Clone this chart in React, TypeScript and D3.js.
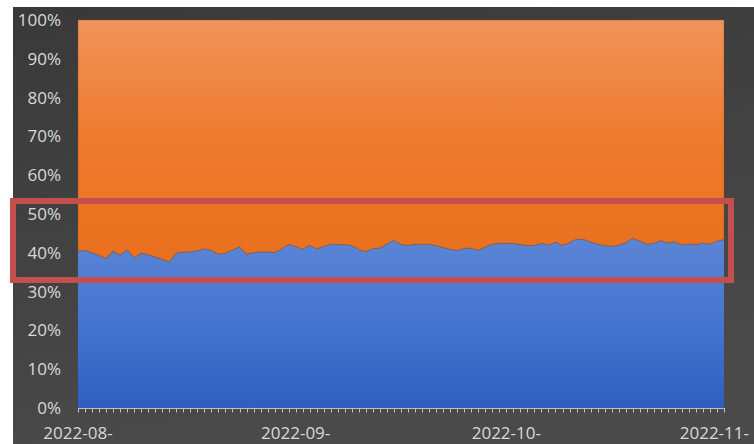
import React from "react";
import * as d3 from "d3";

// Share of the blue series (percent) per day, 2022-08-01 .. 2022-11-01
const blueShare: number[] = [
  40.4, 40.6, 40.0, 39.3, 38.5, 40.4, 39.4, 40.8, 38.7, 39.9,
  39.5, 38.9, 38.3, 37.6, 39.9, 40.2, 40.2, 40.5, 41.0, 40.6,
  39.6, 39.9, 40.7, 41.5, 39.6, 40.0, 40.2, 40.2, 40.0, 41.0,
  42.1, 41.6, 40.9, 41.9, 41.0, 41.6, 42.2, 42.1, 42.1, 41.8,
  40.8, 40.3, 41.1, 41.2, 42.3, 43.2, 42.1, 41.9, 42.2, 42.1,
  42.2, 41.8, 41.3, 40.9, 40.6, 41.1, 41.2, 40.6, 41.5, 42.2,
  42.4, 42.4, 42.4, 42.1, 41.9, 41.9, 42.4, 42.0, 42.7, 41.9,
  42.6, 43.5, 43.4, 42.8, 42.2, 41.8, 41.7, 41.9, 42.6, 43.7,
  43.0, 42.2, 42.4, 43.1, 42.5, 42.8, 42.0, 42.3, 42.1, 42.5,
  42.2, 43.0, 43.4,
];
// Orange series is the complement to 100%
const orangeShare: number[] = blueShare.map((v) => 100 - v);

const startDate = new Date(2022, 7, 1);
const endDate = new Date(2022, 10, 1);
const dates: Date[] = d3.timeDay.range(startDate, d3.timeDay.offset(endDate, 1));

const yTicks: number[] = [0, 0.1, 0.2, 0.3, 0.4, 0.5, 0.6, 0.7, 0.8, 0.9, 1.0];
const monthTickDates: Date[] = [
  new Date(2022, 7, 1),
  new Date(2022, 8, 1),
  new Date(2022, 9, 1),
  new Date(2022, 10, 1),
];
const monthTickLabels: string[] = ["2022-08-", "2022-09-", "2022-10-", "2022-11-"];

const W = 754;
const H = 444;
const plot = { left: 78, right: 724, top: 20, bottom: 408 };

export default function App() {
  const x = d3.scaleTime().domain([startDate, endDate]).range([plot.left, plot.right]);
  const y = d3.scaleLinear().domain([0, 1]).range([plot.bottom, plot.top]);

  const rows = dates.map((d, i) => ({
    date: d,
    blue: blueShare[i] / 100,
    orange: orangeShare[i] / 100,
  }));
  const stacked = d3.stack<any>().keys(["blue", "orange"])(rows);
  const area = d3
    .area<any>()
    .x((d) => x(d.data.date))
    .y0((d) => y(d[0]))
    .y1((d) => y(d[1]));
  const line = d3
    .line<any>()
    .x((d) => x(d.data.date))
    .y((d) => y(d[1]));

  const font = "'Segoe UI', 'Open Sans', 'Noto Sans', sans-serif";
  const textColor = "#d9d9d9";

  return (
    <svg
      width={W}
      height={H}
      style={{ position: "absolute", left: 0, top: 0, display: "block" }}
    >
      <defs>
        <linearGradient id="bg" x1="0" y1="0" x2="0.3" y2="1">
          <stop offset="0" stopColor="#393939" />
          <stop offset="1" stopColor="#4a4a4a" />
        </linearGradient>
        <linearGradient id="orangeGrad" gradientUnits="userSpaceOnUse" x1="0" y1={plot.top} x2="0" y2={y(0.36)}>
          <stop offset="0" stopColor="#f0935b" />
          <stop offset="0.45" stopColor="#ef7c2e" />
          <stop offset="1" stopColor="#e86f1c" />
        </linearGradient>
        <linearGradient id="blueGrad" gradientUnits="userSpaceOnUse" x1="0" y1={y(0.44)} x2="0" y2={plot.bottom}>
          <stop offset="0" stopColor="#5b86d6" />
          <stop offset="0.5" stopColor="#4574d0" />
          <stop offset="1" stopColor="#2f5ec0" />
        </linearGradient>
      </defs>

      <rect x={0} y={0} width={W} height={H} fill="#ffffff" />
      <rect x={13} y={7} width={W - 13} height={H - 7} fill="url(#bg)" />

      {/* stacked areas */}
      <path d={area(stacked[0]) || ""} fill="url(#blueGrad)" />
      <path d={area(stacked[1]) || ""} fill="url(#orangeGrad)" stroke="#8a4a20" strokeWidth={0.6} strokeOpacity={0.6} />
      <path d={line(stacked[0]) || ""} fill="none" stroke="#6e6680" strokeWidth={1} strokeOpacity={0.55} />

      {/* y axis labels */}
      {yTicks.map((t) => (
        <text
          key={t}
          x={61}
          y={y(t)}
          dy="0.35em"
          textAnchor="end"
          fontFamily={font}
          fontSize={17}
          fill={textColor}
        >
          {d3.format(".0%")(t)}
        </text>
      ))}

      {/* x axis line and daily ticks */}
      <line x1={plot.left} x2={plot.right} y1={plot.bottom + 0.5} y2={plot.bottom + 0.5} stroke="#bfbfbf" strokeWidth={1} />
      {dates.map((d, i) => (
        <line
          key={i}
          x1={Math.round(x(d)) + 0.5}
          x2={Math.round(x(d)) + 0.5}
          y1={plot.bottom}
          y2={plot.bottom + 4.5}
          stroke="#bfbfbf"
          strokeWidth={1}
        />
      ))}

      {/* month labels */}
      {monthTickDates.map((d, i) => {
        const cx = x(d);
        const overflow = cx + 35 > 749;
        return (
          <text
            key={i}
            x={overflow ? 749 : cx}
            y={439}
            textAnchor={overflow ? "end" : "middle"}
            fontFamily={font}
            fontSize={17}
            fill={textColor}
          >
            {monthTickLabels[i]}
          </text>
        );
      })}

      {/* highlight rectangle */}
      <rect x={13} y={201} width={718} height={79} fill="none" stroke="#c4504d" strokeWidth={6} />
    </svg>
  );
}
